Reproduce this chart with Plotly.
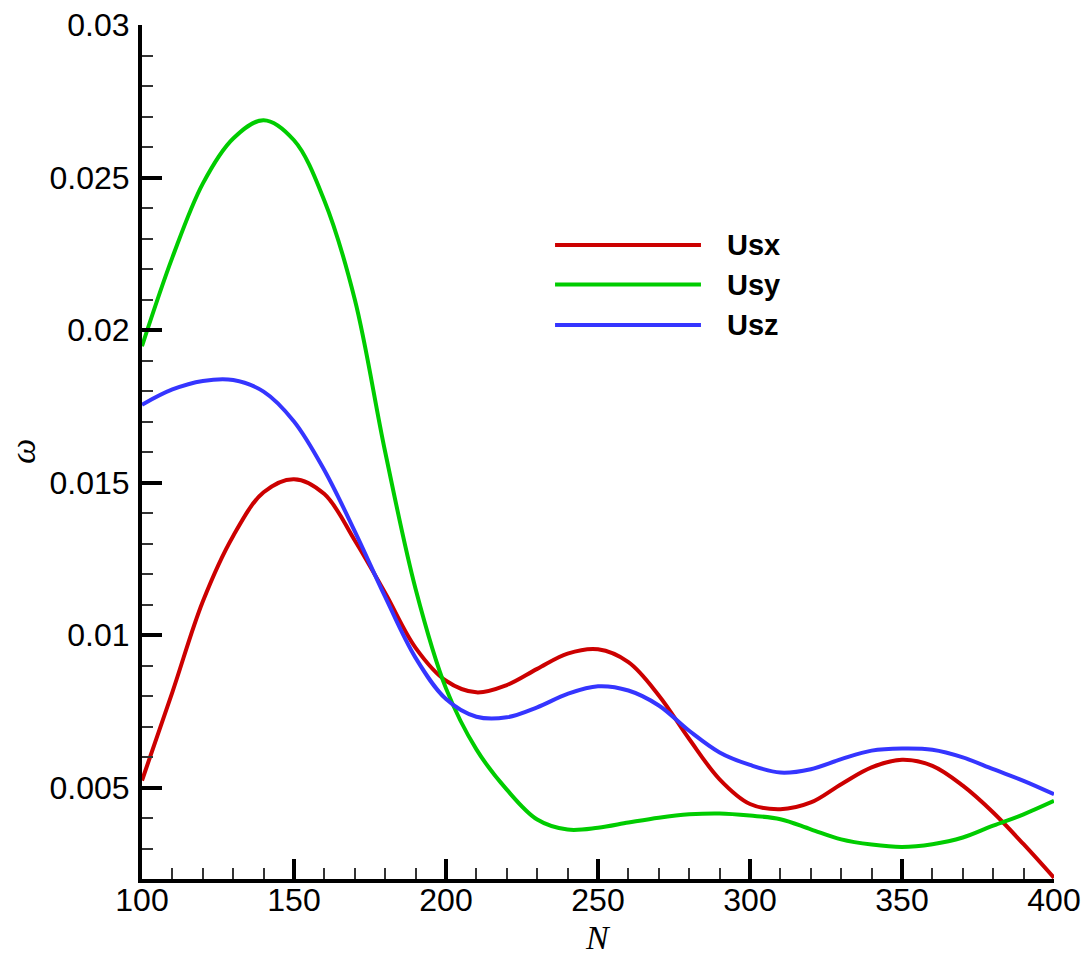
import plotly.graph_objects as go

N = [100, 110, 120, 130, 140, 150, 160, 170, 180, 190, 200, 210, 220, 230, 240, 250,
     260, 270, 280, 290, 300, 310, 320, 330, 340, 350, 360, 370, 380, 390, 400]

usx = [0.00523, 0.00813, 0.01110, 0.01325, 0.01468, 0.01511, 0.01462, 0.01310, 0.01138,
       0.00958, 0.00850, 0.00812, 0.00836, 0.00889, 0.00939, 0.00953, 0.00911, 0.00802,
       0.00659, 0.00527, 0.00446, 0.00429, 0.00451, 0.00511, 0.00566, 0.00591, 0.00571,
       0.00506, 0.00418, 0.00314, 0.00204]

usy = [0.01947, 0.02238, 0.02480, 0.02628, 0.02688, 0.02622, 0.02424, 0.02100, 0.01600,
       0.01151, 0.00825, 0.00625, 0.00493, 0.00395, 0.00362, 0.00368, 0.00385, 0.00401,
       0.00412, 0.00415, 0.00408, 0.00396, 0.00363, 0.00330, 0.00313, 0.00305, 0.00314,
       0.00336, 0.00375, 0.00412, 0.00456]

usz = [0.01755, 0.01805, 0.01833, 0.01836, 0.01798, 0.01700, 0.01540, 0.01340, 0.01125,
       0.00925, 0.00790, 0.00732, 0.00730, 0.00763, 0.00807, 0.00832, 0.00818, 0.00769,
       0.00686, 0.00615, 0.00574, 0.00549, 0.00560, 0.00593, 0.00621, 0.00628, 0.00624,
       0.00599, 0.00560, 0.00522, 0.00478]

series_names = ["Usx", "Usy", "Usz"]
series_values = [usx, usy, usz]
colors = ["#CC0000", "#00CC00", "#3535FF"]

x_ticks = [100, 150, 200, 250, 300, 350, 400]
y_ticks = [0.005, 0.01, 0.015, 0.02, 0.025, 0.03]
y_tick_text = ["0.005", "0.01", "0.015", "0.02", "0.025", "0.03"]

fig = go.Figure()
for name, vals, col in zip(series_names, series_values, colors):
    fig.add_trace(go.Scatter(x=N, y=vals, mode="lines", name=name,
                             line=dict(color=col, width=4, shape="spline", smoothing=1.0),
                             showlegend=False))

# legend drawn as in the original (long line samples)
leg_y = [0.7424, 0.6961, 0.6487]
for name, col, ly in zip(series_names, colors, leg_y):
    fig.add_shape(type="line", xref="paper", yref="paper", x0=0.4529, x1=0.6129,
                  y0=ly, y1=ly, line=dict(color=col, width=4))
    fig.add_annotation(xref="paper", yref="paper", x=0.6393, y=ly, text="<b>%s</b>" % name,
                       showarrow=False, xanchor="left", yanchor="middle",
                       font=dict(family="Liberation Sans, Arial", size=29, color="black"))

# axis titles
fig.add_annotation(xref="paper", yref="paper", x=(598 - 142) / 912, y=(879 - 957) / 854,
                   text="<i>N</i>", showarrow=False, xanchor="center", yanchor="bottom",
                   borderpad=0,
                   font=dict(family="Liberation Serif, Times New Roman", size=34, color="black"))
fig.add_annotation(xref="paper", yref="paper", x=(23 - 142) / 912, y=(879 - 452) / 854,
                   text="<i>ω</i>", showarrow=False, xanchor="center", yanchor="middle",
                   textangle=-90,
                   font=dict(family="Liberation Serif, Times New Roman", size=36, color="black"))

axis_common = dict(
    showline=True, linecolor="black", linewidth=4, mirror=False,
    ticks="inside", ticklen=20, tickwidth=4, tickcolor="black",
    showgrid=False, zeroline=False, automargin=False,
    tickfont=dict(family="Liberation Sans, Arial", size=32, color="black"),
)

fig.update_xaxes(range=[100, 400], tickvals=x_ticks,
                 minor=dict(dtick=10, ticks="inside", ticklen=11, tickwidth=1.5, tickcolor="#333",
                            showgrid=False),
                 ticklabelstandoff=-10,
                 **axis_common)
fig.update_yaxes(range=[0.002, 0.03], tickvals=y_ticks, ticktext=y_tick_text,
                 minor=dict(dtick=0.001, tick0=0, ticks="inside", ticklen=11, tickwidth=1.5,
                            tickcolor="#333", showgrid=False),
                 ticklabelstandoff=2,
                 **axis_common)

fig.update_layout(width=1088, height=957, margin=dict(l=142, r=34, t=25, b=78),
                  paper_bgcolor="white", plot_bgcolor="white")

fig.write_html("out.html")
